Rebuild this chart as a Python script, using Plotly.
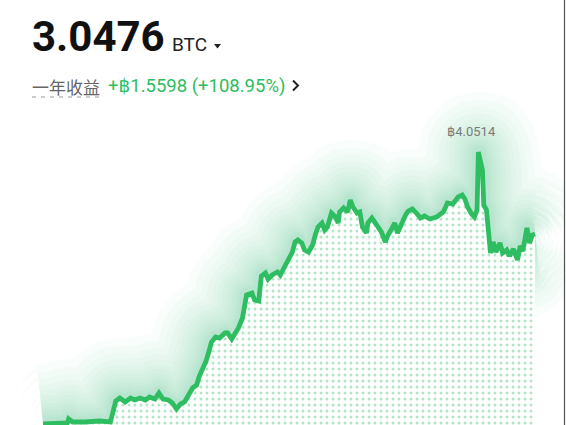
import plotly.graph_objects as go

# ---- data (day index within the year, BTC balance) ----
days = [0, 9, 18, 19, 22, 31, 42, 50, 52, 54, 57, 61, 65, 68, 72, 76, 79, 83, 86, 89,
        93, 96, 99, 102, 105, 108, 111, 114, 116, 119, 121, 123, 125, 128, 131, 135, 137, 140, 142, 145,
        148, 150, 151, 155, 157, 160, 161, 162, 165, 167, 170, 174, 176, 178, 181, 185, 187, 189, 192, 194,
        197, 200, 202, 204, 207, 209, 211, 214, 217, 219, 220, 223, 226, 228, 230, 233, 235, 237, 240, 241,
        244, 246, 249, 251, 254, 256, 259, 261, 263, 266, 269, 271, 274, 277, 280, 283, 287, 292, 297, 300,
        304, 308, 311, 313, 315, 318, 320, 322, 323, 326, 327, 329, 332, 334, 336, 339, 341, 344, 346, 349,
        352, 354, 356, 359, 361, 363, 365]
values = [0.7218, 0.7341, 0.7341, 0.7830, 0.7463, 0.7463, 0.7585, 0.7463, 0.8932, 1.0034,
          1.0401, 0.9911, 1.0401, 1.0156, 1.0401, 1.0156, 1.0524, 1.0279, 1.1013, 1.0279,
          1.0156, 0.9789, 0.9054, 0.9667, 0.9911, 1.0646, 1.1625, 1.1992, 1.3094, 1.4195,
          1.4930, 1.6032, 1.7256, 1.7868, 1.7745, 1.8357, 1.8357, 1.7623, 1.8113, 1.8969,
          2.0194, 2.1662, 2.3009, 2.3254, 2.2397, 2.2274, 2.3866, 2.5335, 2.5702, 2.4968,
          2.5457, 2.5824, 2.5457, 2.6069, 2.7293, 2.8273, 2.9497, 2.9741, 2.9374, 2.8517,
          2.8273, 2.9130, 3.0354, 3.1333, 3.1822, 3.0966, 3.1333, 3.3047, 3.2557, 3.1822,
          3.3169, 3.3659, 3.3169, 3.4638, 3.3781, 3.3047, 3.3169, 3.1333, 3.0598, 3.1822,
          3.2435, 3.1945, 3.1210, 3.0721, 2.9497, 3.0354, 3.1210, 3.1822, 3.0598, 3.1822,
          3.2802, 3.3292, 3.3536, 3.3047, 3.2435, 3.2679, 3.2312, 3.2557, 3.3169, 3.4271,
          3.4148, 3.5005, 3.5250, 3.4760, 3.3781, 3.2924, 3.2557, 3.3414, 4.0514, 3.8310,
          3.4026, 3.3414, 2.8150, 2.9497, 2.8273, 2.9374, 2.8150, 2.8517, 2.7783, 2.8640,
          2.7293, 2.9007, 2.8395, 3.1210, 2.9374, 3.0354, 3.0476]

balance_text = "3.0476"
unit_text = "BTC"
gain_label = "一年收益"
gain_text = "+฿1.5598 (+108.95%)"
peak_text = "฿4.0514"

# ---- layout helpers ----
W, H = 566, 425
GREEN = "#2EBD60"


def px(x):
    return x / W


def py(y):
    return 1 - y / H


fig = go.Figure()

# soft glow around the line (many faint, smoothed layers)
for w in [120, 104, 90, 78, 67, 57, 48, 40, 33, 27, 21, 16, 12]:
    fig.add_trace(go.Scatter(
        x=days, y=values, mode="lines",
        line=dict(color="rgba(46,189,96,0.027)", width=w, shape="spline", smoothing=1.0),
        hoverinfo="skip"))

# dotted area under the line
fig.add_trace(go.Scatter(
    x=days, y=values, mode="lines", line=dict(width=0), fill="tozeroy",
    fillcolor="white",
    fillpattern=dict(shape=".", size=6, solidity=0.2,
                     fgcolor="rgba(46,189,96,0.75)", bgcolor="white"),
    hoverinfo="skip"))

# main line
fig.add_trace(go.Scatter(
    x=days, y=values, mode="lines",
    line=dict(color=GREEN, width=4.8), hoverinfo="skip"))

peak_i = values.index(max(values))

annotations = [
    dict(x=days[peak_i], y=values[peak_i], xref="x", yref="y", text=peak_text,
         showarrow=False, xshift=-7, yshift=21,
         font=dict(family="Roboto, DejaVu Sans", size=13, color="#7a7a7a")),
    dict(x=px(30), y=py(37), xref="paper", yref="paper", text=f"<b>{balance_text}</b>",
         showarrow=False, xanchor="left", yanchor="middle",
         font=dict(family="Roboto, DejaVu Sans", size=42, color="#111111")),
    dict(x=px(170), y=py(45), xref="paper", yref="paper", text=unit_text,
         showarrow=False, xanchor="left", yanchor="middle",
         font=dict(family="Roboto, DejaVu Sans", size=19, color="#222222")),
    dict(x=px(30), y=py(86), xref="paper", yref="paper", text=gain_label,
         showarrow=False, xanchor="left", yanchor="middle",
         font=dict(family="Noto Sans CJK SC", size=17, color="#666666")),
    dict(x=px(106), y=py(86), xref="paper", yref="paper", text=gain_text,
         showarrow=False, xanchor="left", yanchor="middle",
         font=dict(family="Roboto, DejaVu Sans", size=18.5, color=GREEN)),
]

shapes = [
    # dropdown triangle
    dict(type="path", xref="paper", yref="paper",
         path=f"M {px(214)} {py(44)} L {px(221)} {py(44)} L {px(217.5)} {py(48.5)} Z",
         fillcolor="#222222", line=dict(width=0)),
    # dashed underline
    dict(type="line", xref="paper", yref="paper", x0=px(32), x1=px(100), y0=py(97), y1=py(97),
         line=dict(color="#9a9a9a", width=1.2, dash="4px,5px")),
    # chevron
    dict(type="path", xref="paper", yref="paper",
         path=f"M {px(293)} {py(80.5)} L {px(298)} {py(85.5)} L {px(293)} {py(90.5)}",
         line=dict(color="#222222", width=2)),
    # right border
    dict(type="line", xref="paper", yref="paper", x0=px(564.5), x1=px(564.5), y0=0, y1=1,
         line=dict(color="#555555", width=1.2)),
]

fig.update_layout(
    width=W, height=H,
    margin=dict(l=0, r=0, t=0, b=0, pad=0),
    paper_bgcolor="white", plot_bgcolor="white",
    showlegend=False,
    xaxis=dict(visible=False, range=[-31.9, 388.0], fixedrange=True),
    yaxis=dict(visible=False, range=[0.7096, 5.912], fixedrange=True),
    annotations=annotations,
    shapes=shapes,
)

fig.write_html("out.html")
